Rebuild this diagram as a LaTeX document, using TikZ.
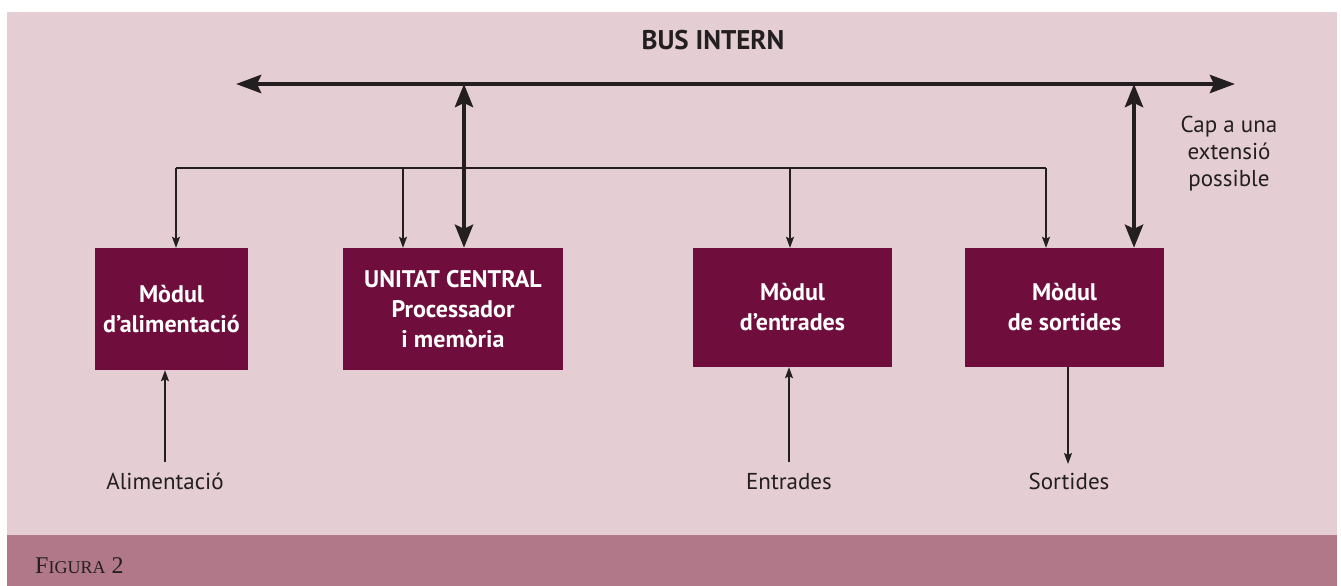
\documentclass[tikz,border=0pt]{standalone}
\usepackage{fontspec}
\newfontfamily\myr{PT Sans}
\newfontfamily\capfont{Liberation Serif}
\usetikzlibrary{arrows.meta}
\definecolor{bgpink}{HTML}{E4CDD3}
\definecolor{band}{HTML}{B07888}
\definecolor{boxc}{HTML}{6F0E3C}
\definecolor{ink}{HTML}{231F20}
\begin{document}
\begin{tikzpicture}[x=1pt,y=-1pt,
  modbox/.style={fill=boxc,draw=none,text=white,font=\myr\bfseries\fontsize{24}{30}\selectfont,align=center,inner sep=0pt},
  lbl/.style={text=ink,font=\myr\fontsize{23}{27}\selectfont,align=center,inner sep=0pt},
  busline/.style={draw=ink,line width=4.5pt,{Stealth[length=25pt,width=18pt,inset=4pt]}-{Stealth[length=25pt,width=18pt,inset=4pt]}},
  thickarr/.style={draw=ink,line width=4.5pt,{Stealth[length=23pt,width=18pt,inset=4pt]}-{Stealth[length=23pt,width=18pt,inset=4pt]}},
  thinline/.style={draw=ink,line width=1.4pt},
  thinarr/.style={draw=ink,line width=1.4pt,-{Stealth[length=11pt,width=8pt,inset=2pt]}}
]
\useasboundingbox (0,0) rectangle (1341,586);
\fill[white] (0,0) rectangle (1341,586);
\fill[bgpink] (7,12) rectangle (1337,535);
\fill[band] (7,535) rectangle (1337,586);

% title
\node[text=ink,font=\myr\bfseries\fontsize{27}{30}\selectfont,anchor=base,inner sep=0pt] (title) at (713,50) {BUS INTERN};

% boxes
\node[modbox,minimum width=153pt,minimum height=122pt] (alim) at (171.5,309) {Mòdul\\d’alimentació};
\node[modbox,minimum width=220pt,minimum height=122pt] (uc) at (453,309) {UNITAT CENTRAL\\Processador\\i memòria};
\node[modbox,minimum width=199pt,minimum height=119pt] (ent) at (792.5,307.5) {Mòdul\\d’entrades};
\node[modbox,minimum width=199pt,minimum height=119pt] (sor) at (1064.5,307.5) {Mòdul\\de sortides};

% bus
\coordinate (busL) at (236,84);
\coordinate (busR) at (1235,84);
\draw[busline] (busL) -- (busR);
\coordinate (b1) at (464,84);
\coordinate (b2) at (1134,84);
\draw[thickarr] (b1) -- (b1 |- uc.north);
\draw[thickarr] (b2) -- (b2 |- sor.north);

% thin distribution line
\coordinate (h1) at (176,168);
\coordinate (h2) at (403,168);
\coordinate (h3) at (790,168);
\coordinate (h4) at (1046,168);
\draw[thinline] (h1) -- (h4);
\draw[thinarr] (h1) -- (h1 |- alim.north);
\draw[thinarr] (h2) -- (h2 |- uc.north);
\draw[thinarr] (h3) -- (h3 |- ent.north);
\draw[thinarr] (h4) -- (h4 |- sor.north);

% extension label
\node[lbl,anchor=north] (ext) at (1229,116) {Cap a una\\extensió\\possible};

% bottom labels
\node[lbl,anchor=base] (alimlbl) at (165,489) {Alimentació};
\node[lbl,anchor=base] (entlbl) at (789,489) {Entrades};
\node[lbl,anchor=base] (sorlbl) at (1069,489) {Sortides};
\coordinate (a0) at (165,462);
\coordinate (e0) at (789,462);
\coordinate (s0) at (1068,464);
\draw[thinarr] (a0) -- (a0 |- alim.south);
\draw[thinarr] (e0) -- (e0 |- ent.south);
\draw[thinarr] (s0 |- sor.south) -- (s0);

% caption
\node[text=ink,font=\capfont,anchor=base west,inner sep=0pt] (cap) at (35,573) {{\fontsize{24}{28}\selectfont F}{\fontsize{18}{28}\selectfont IGURA}{\fontsize{24}{28}\selectfont\ 2}};
\end{tikzpicture}
\end{document}
